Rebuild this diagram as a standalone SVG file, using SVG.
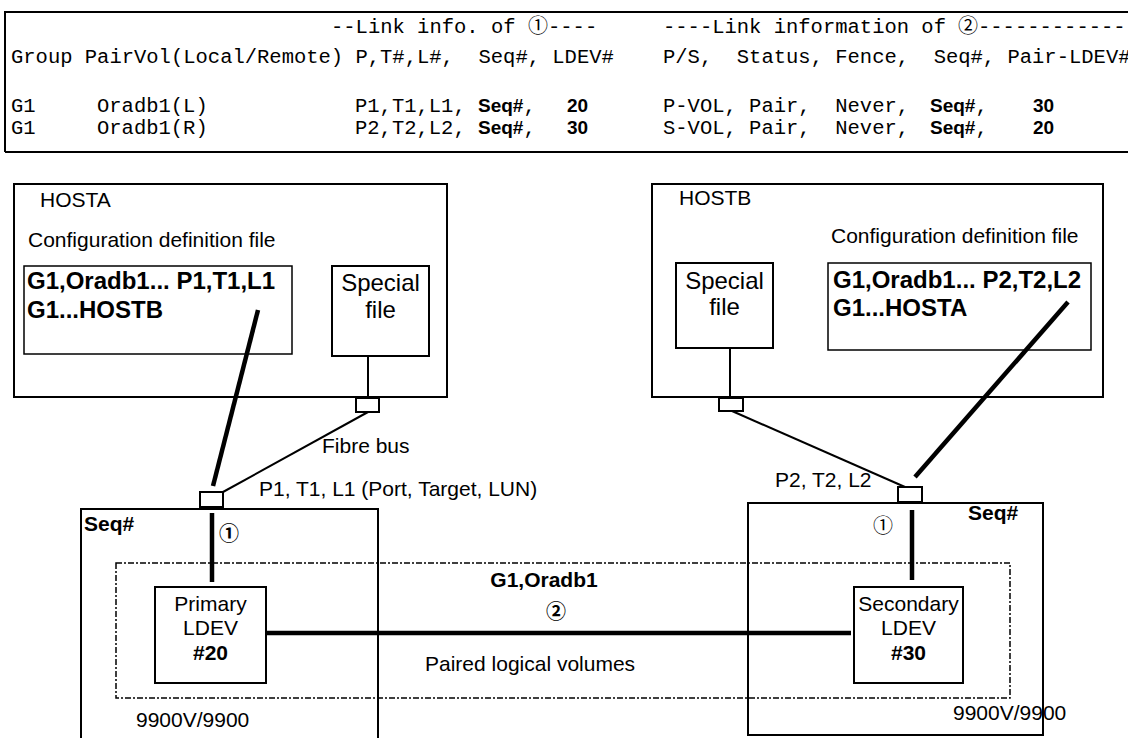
<svg xmlns="http://www.w3.org/2000/svg" width="1128" height="738" viewBox="0 0 1128 738">
<style>
  .mono{font-family:"Liberation Mono","Courier New",monospace;font-size:20.5px;fill:#000;white-space:pre}
  .mb{font-family:"Liberation Sans",Arial,sans-serif;font-weight:bold;font-size:19px;fill:#000}
  .lbl{font-family:"Liberation Sans",Arial,sans-serif;font-size:21px;fill:#000}
  .lblb{font-family:"Liberation Sans",Arial,sans-serif;font-size:21px;font-weight:bold;fill:#000}
  .big{font-family:"Liberation Sans",Arial,sans-serif;font-size:24px;fill:#000}
  .bigb{font-family:"Liberation Sans",Arial,sans-serif;font-size:24px;font-weight:bold;fill:#000}
  .circ{font-family:"Noto Sans CJK JP","DejaVu Sans",sans-serif;font-size:20px;fill:#000}
  .mid{text-anchor:middle}
  .box{fill:none;stroke:#000;stroke-width:2}
  .thin{fill:none;stroke:#000;stroke-width:1.5}
  .port{fill:#fff;stroke:#000;stroke-width:2}
  .wire{stroke:#000;stroke-width:2;fill:none}
  .thick{stroke:#000;stroke-width:4.5;fill:none}
  .dot{fill:none;stroke:#000;stroke-width:1.5;stroke-dasharray:6 2 2 2}
</style>
<rect width="1128" height="738" fill="#fff"/>

<g id="table">
  <path d="M5,152 V12 H1128" class="box" stroke-width="2.5"/>
  <line x1="5" y1="152" x2="1128" y2="152" class="box" stroke-width="2.5"/>
  <text class="mono" x="331" y="33">--Link info. of </text>
  <text class="circ" x="528" y="33">①</text>
  <text class="mono" x="548" y="33">----</text>
  <text class="mono" x="663" y="33">----Link information of </text>
  <text class="circ" x="958" y="33">②</text>
  <text class="mono" x="978" y="33">-------------</text>
  <text class="mono" x="11" y="63">Group PairVol(Local/Remote) P,T#,L#,  Seq#, LDEV#    P/S,  Status, Fence,  Seq#, Pair-LDEV#</text>
  <text class="mono" x="11" y="112">G1</text>
  <text class="mono" x="97" y="112">Oradb1(L)</text>
  <text class="mono" x="355" y="112">P1,T1,L1,</text>
  <text x="478" y="112"><tspan class="mb">Seq#</tspan><tspan class="mono">,</tspan></text>
  <text class="mb" x="567" y="112">20</text>
  <text class="mono" x="663" y="112">P-VOL, Pair,  Never,</text>
  <text x="930" y="112"><tspan class="mb">Seq#</tspan><tspan class="mono">,</tspan></text>
  <text class="mb" x="1033" y="112">30</text>
  <text class="mono" x="11" y="134">G1</text>
  <text class="mono" x="97" y="134">Oradb1(R)</text>
  <text class="mono" x="355" y="134">P2,T2,L2,</text>
  <text x="478" y="134"><tspan class="mb">Seq#</tspan><tspan class="mono">,</tspan></text>
  <text class="mb" x="567" y="134">30</text>
  <text class="mono" x="663" y="134">S-VOL, Pair,  Never,</text>
  <text x="930" y="134"><tspan class="mb">Seq#</tspan><tspan class="mono">,</tspan></text>
  <text class="mb" x="1033" y="134">20</text>
</g>

<g id="hostA">
  <rect x="14" y="184" width="433" height="213" class="box"/>
  <text class="lbl" x="40" y="207">HOSTA</text>
  <text class="lbl" x="28" y="247">Configuration definition file</text>
  <rect x="24" y="266" width="268" height="88" class="thin"/>
  <text class="bigb" x="27" y="289">G1,Oradb1... P1,T1,L1</text>
  <text class="bigb" x="27" y="318">G1...HOSTB</text>
</g>
<g id="hostA-special">
  <rect x="332" y="266" width="97" height="90" class="box"/>
  <text class="big mid" x="380.5" y="291">Special</text>
  <text class="big mid" x="380.5" y="318">file</text>
</g>
<g id="hostA-port">
  <rect x="356" y="398" width="23" height="14" class="port"/>
</g>

<g id="hostB">
  <rect x="652" y="184" width="451" height="213" class="box"/>
  <text class="lbl" x="679" y="205">HOSTB</text>
  <text class="lbl" x="831" y="243">Configuration definition file</text>
  <rect x="828" y="263" width="263" height="87" class="thin"/>
  <text class="bigb" x="833" y="288">G1,Oradb1... P2,T2,L2</text>
  <text class="bigb" x="833" y="316">G1...HOSTA</text>
</g>
<g id="hostB-special">
  <rect x="676" y="263" width="97" height="85" class="box"/>
  <text class="big mid" x="724.5" y="289">Special</text>
  <text class="big mid" x="724.5" y="315">file</text>
</g>
<g id="hostB-port">
  <rect x="719" y="398" width="24" height="13" class="port"/>
</g>

<g id="pair-group">
  <rect x="116" y="563" width="894" height="135" class="dot"/>
  <text class="lblb mid" x="544" y="587">G1,Oradb1</text>
  <text class="circ mid" x="556" y="619" font-weight="bold">②</text>
  <text class="lbl" x="425" y="671">Paired logical volumes</text>
</g>

<g id="storage-left">
  <path d="M81,742 V509 H378 V742" class="box"/>
  <text class="lblb" x="84" y="531">Seq#</text>
  <text class="circ mid" x="229" y="541" font-weight="bold">①</text>
  <text class="lbl" x="136" y="727">9900V/9900</text>
</g>
<g id="port-left">
  <rect x="200" y="492" width="23" height="15" class="port"/>
</g>
<g id="primary-ldev">
  <rect x="155" y="587" width="111" height="96" class="box"/>
  <text class="lbl mid" x="210.5" y="611">Primary</text>
  <text class="lbl mid" x="210.5" y="635">LDEV</text>
  <text class="lblb mid" x="210.5" y="660">#20</text>
</g>

<g id="storage-right">
  <rect x="748" y="503" width="295" height="232" class="box"/>
  <text class="lblb" x="968" y="520">Seq#</text>
  <text class="circ mid" x="883" y="533">①</text>
  <text class="lbl" x="953" y="720">9900V/9900</text>
</g>
<g id="port-right">
  <rect x="898" y="487" width="24" height="15" class="port"/>
</g>
<g id="secondary-ldev">
  <rect x="854" y="587" width="109" height="96" class="box"/>
  <text class="lbl mid" x="908.5" y="611">Secondary</text>
  <text class="lbl mid" x="908.5" y="635">LDEV</text>
  <text class="lblb mid" x="908.5" y="660">#30</text>
</g>

<g id="connectors">
  <line x1="368" y1="356" x2="368" y2="398" class="wire"/>
  <line x1="730" y1="348" x2="730" y2="398" class="wire"/>
  <line x1="368" y1="412" x2="223" y2="492" class="wire"/>
  <line x1="732" y1="411" x2="905" y2="487" class="wire"/>
  <line x1="258" y1="310" x2="213" y2="486" class="thick"/>
  <line x1="1068" y1="302" x2="915" y2="477" class="thick"/>
  <line x1="212" y1="513" x2="212" y2="582" class="thick"/>
  <line x1="912" y1="510" x2="912" y2="580" class="thick"/>
  <line x1="266" y1="633" x2="851" y2="633" class="thick" stroke-width="5.5"/>
  <text class="lbl" x="322" y="453">Fibre bus</text>
  <text class="lbl" x="259" y="496">P1, T1, L1 (Port, Target, LUN)</text>
  <text class="lbl" x="775" y="487">P2, T2, L2</text>
</g>
</svg>
